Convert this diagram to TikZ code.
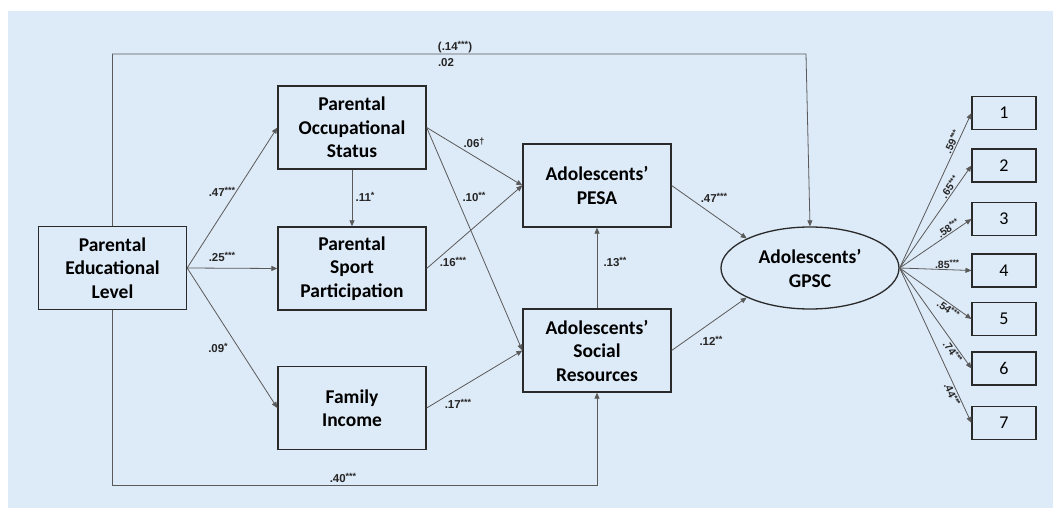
\documentclass[tikz,border=0pt]{standalone}
\usepackage{fontspec}
\setmainfont{Liberation Sans}
\newfontfamily\boxfont{Carlito}
\usetikzlibrary{arrows.meta,shapes.geometric,calc}
\definecolor{bgblue}{HTML}{DDEAF7}
\definecolor{linegray}{HTML}{5A5A5A}
\definecolor{boxline}{HTML}{2A2A2A}
\newcommand{\sig}[1]{\raisebox{0.45ex}{\fontsize{9}{9}\selectfont #1}}
\newcommand{\lsig}[1]{\raisebox{0.45ex}{\fontsize{8}{8}\selectfont #1}}
\tikzset{
  box/.style={draw=boxline, line width=1.3pt, minimum width=148pt, minimum height=83pt,
    align=center, inner sep=0pt, font=\boxfont\bfseries\fontsize{19.5}{23.5}\selectfont},
  ind/.style={draw=boxline, line width=1.1pt, minimum width=64pt, minimum height=33pt,
    inner sep=0pt, font=\boxfont\fontsize{18}{20}\selectfont},
  lat/.style={ellipse, draw=boxline, line width=1.3pt, minimum width=178pt, minimum height=82pt,
    inner sep=0pt, align=center, font=\boxfont\bfseries\fontsize{19.5}{24}\selectfont},
  conn/.style={draw=linegray, line width=0.8pt, -{Triangle[length=6pt,width=5pt]}},
  lbl/.style={font=\bfseries\fontsize{11.5}{12}\selectfont, inner sep=0.5pt, text=black!85},
  load/.style={font=\bfseries\fontsize{10.5}{11}\selectfont, inner sep=1pt, text=black!85},
}
\begin{document}
\begin{tikzpicture}[x=1pt,y=-1pt]
\useasboundingbox (0,0) rectangle (1053,508);
\fill[bgblue] (8,11) rectangle (1053,508);

% nodes
\node[box] (pel) at (112.5,268) {Parental\\Educational\\Level};
\node[box] (pos) at (352,127.5) {Parental\\Occupational\\Status};
\node[box] (psp) at (352,268.5) {Parental\\Sport\\Participation};
\node[box] (fi) at (352,408) {Family\\Income};
\node[box] (pesa) at (597,185.5) {Adolescents’\\PESA};
\node[box] (sr) at (597,350.5) {Adolescents’\\Social\\Resources};
\node[lat] (gpsc) at (810,268) {Adolescents’\\GPSC};

\node[ind] (i1) at (1004,113) {1};
\node[ind] (i2) at (1004,165.5) {2};
\node[ind] (i3) at (1004,219) {3};
\node[ind] (i4) at (1004,270.5) {4};
\node[ind] (i5) at (1004,319) {5};
\node[ind] (i6) at (1004,368.5) {6};
\node[ind] (i7) at (1004,423) {7};

\coordinate (tr) at (806,54);
\coordinate (br) at (597,485);

% connectors
\draw[conn] (pel.east) -- (pos.west);
\draw[conn] (pel.east) -- (psp.west);
\draw[conn] (pel.east) -- (fi.west);
\draw[conn] (pos.south) -- (psp.north);
\draw[conn] (pos.east) -- (pesa.west);
\draw[conn] (pos.east) -- (sr.west);
\draw[conn] (psp.east) -- (pesa.west);
\draw[conn] (fi.east) -- (sr.west);
\draw[conn] (sr.north) -- (pesa.south);
\draw[conn] (pesa.east) -- (gpsc.155);
\draw[conn] (sr.east) -- (gpsc.205);
\draw[conn] (pel.north) |- (tr) -- (gpsc.north);
\draw[conn] (pel.south) |- (br) -- (sr.south);

% loadings
\draw[conn] (gpsc.east) -- node[load, sloped, above, pos=0.8] {.59\lsig{***}} (i1.west);
\draw[conn] (gpsc.east) -- node[load, sloped, above, pos=0.76] {.65\lsig{***}} (i2.west);
\draw[conn] (gpsc.east) -- node[load, sloped, above, pos=0.72] {.58\lsig{***}} (i3.west);
\draw[conn] (gpsc.east) -- node[load, above, pos=0.66] {.85\lsig{***}} (i4.west);
\draw[conn] (gpsc.east) -- node[load, sloped, below, pos=0.72] {.54\lsig{***}} (i5.west);
\draw[conn] (gpsc.east) -- node[load, sloped, below, pos=0.8] {.74\lsig{***}} (i6.west);
\draw[conn] (gpsc.east) -- node[load, sloped, below, pos=0.8] {.44\lsig{***}} (i7.west);

% path labels
\node[lbl] (l1) at (455,47) {(.14\sig{***})};
\node[lbl] (l2) at (446,63) {.02};
\node[lbl] (l3) at (222,192) {.47\sig{***}};
\node[lbl] (l4) at (222,257) {.25\sig{***}};
\node[lbl] (l5) at (218,348) {.09\sig{*}};
\node[lbl] (l6) at (365,197) {.11\sig{*}};
\node[lbl] (l7) at (474,143) {.06\sig{†}};
\node[lbl] (l8) at (474,197) {.10\sig{**}};
\node[lbl] (l9) at (453,262) {.16\sig{***}};
\node[lbl] (l10) at (458,404) {.17\sig{***}};
\node[lbl] (l11) at (343,478) {.40\sig{***}};
\node[lbl] (l12) at (615,262) {.13\sig{**}};
\node[lbl] (l13) at (714,198) {.47\sig{***}};
\node[lbl] (l14) at (711,341) {.12\sig{**}};
\end{tikzpicture}
\end{document}
